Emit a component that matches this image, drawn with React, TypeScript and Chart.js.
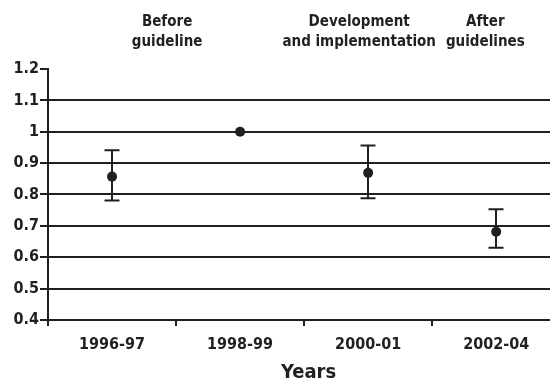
import React, { useEffect, useRef } from "react";
import { Chart, registerables } from "chart.js";

Chart.register(...registerables);

const categories = ["1996-97", "1998-99", "2000-01", "2002-04"];
const estimates = [0.857, 1.0, 0.869, 0.681];
const lowerCI: (number | null)[] = [0.781, null, 0.788, 0.63];
const upperCI: (number | null)[] = [0.941, null, 0.956, 0.753];
const yTickValues = [0.4, 0.5, 0.6, 0.7, 0.8, 0.9, 1.0, 1.1, 1.2];
const periodLabels = [
  ["Before", "guideline"],
  ["Development", "and implementation"],
  ["After", "guidelines"],
];
const xTitle = "Years";

const INK = "#231f20";
const FONT = "'DejaVu Sans Condensed', 'Liberation Sans Narrow', sans-serif";

export default function App() {
  const ref = useRef<HTMLCanvasElement>(null);

  useEffect(() => {
    if (!ref.current) return;

    const errorBars = {
      id: "errorBars",
      beforeDatasetsDraw(chart: any) {
        const { ctx } = chart;
        const xs = chart.scales.x;
        const ys = chart.scales.y;
        ctx.save();
        ctx.strokeStyle = INK;
        ctx.lineWidth = 2;
        categories.forEach((_, i) => {
          const lo = lowerCI[i];
          const hi = upperCI[i];
          if (lo == null || hi == null) return;
          const px = Math.round(xs.getPixelForValue(i));
          const pLo = ys.getPixelForValue(lo);
          const pHi = ys.getPixelForValue(hi);
          ctx.beginPath();
          ctx.moveTo(px, pLo);
          ctx.lineTo(px, pHi);
          ctx.moveTo(px - 7.5, pLo);
          ctx.lineTo(px + 7.5, pLo);
          ctx.moveTo(px - 7.5, pHi);
          ctx.lineTo(px + 7.5, pHi);
          ctx.stroke();
        });
        ctx.restore();
      },
    };

    // horizontal anchors of the period captions, in category units
    const periodAnchors = [0.43, 1.93, 2.915];
    const titleAnchor = 1.535;
    const captions = {
      id: "captions",
      afterDraw(chart: any) {
        const { ctx } = chart;
        const xs = chart.scales.x;
        ctx.save();
        ctx.fillStyle = INK;
        ctx.textAlign = "center";
        ctx.textBaseline = "alphabetic";
        ctx.font = `bold 15px ${FONT}`;
        periodLabels.forEach((lines, i) => {
          const px = xs.getPixelForValue(periodAnchors[i]);
          lines.forEach((t, j) => {
            ctx.fillText(t, px, 26 + j * 20);
          });
        });
        ctx.font = `bold 20px ${FONT}`;
        ctx.fillText(xTitle, xs.getPixelForValue(titleAnchor), 378);
        ctx.restore();
      },
    };

    const chart = new Chart(ref.current, {
      type: "scatter",
      data: {
        datasets: [
          {
            data: estimates.map((v, i) => ({ x: i, y: v })),
            pointRadius: 5,
            pointHoverRadius: 5,
            backgroundColor: INK,
            borderColor: INK,
            borderWidth: 0,
            showLine: false,
          },
        ],
      },
      options: {
        animation: false,
        responsive: false,
        maintainAspectRatio: false,
        events: [],
        layout: { autoPadding: false, padding: { top: 69, right: 0, left: 0, bottom: 0 } },
        plugins: {
          legend: { display: false },
          tooltip: { enabled: false },
        },
        scales: {
          x: {
            type: "linear",
            min: -0.5,
            max: 3.42,
            afterBuildTicks: (scale: any) => {
              scale.ticks = categories.map((_, i) => ({ value: i }));
            },
            afterFit: (scale: any) => {
              scale.height = 66;
              scale.paddingRight = 0;
              scale.paddingLeft = 0;
            },
            ticks: {
              callback: (v: any) => categories[Math.round(Number(v))] ?? "",
              color: INK,
              font: { family: FONT, size: 16, weight: "bold" },
              padding: 9,
              autoSkip: false,
              maxRotation: 0,
            },
            grid: {
              offset: true,
              drawOnChartArea: false,
              color: INK,
              tickColor: INK,
              lineWidth: 2,
              tickLength: 6,
            },
            border: { display: true, color: INK, width: 2 },
          },
          y: {
            min: 0.4,
            max: 1.2,
            afterBuildTicks: (scale: any) => {
              scale.ticks = yTickValues.map((v) => ({ value: v }));
            },
            afterFit: (scale: any) => {
              scale.width = 48;
            },
            ticks: {
              callback: (v: any) => String(Number(Number(v).toFixed(1))),
              color: INK,
              font: { family: FONT, size: 16, weight: "bold" },
              padding: 1,
            },
            grid: {
              color: (c: any) =>
                c.tick && Math.abs(c.tick.value - 1.2) < 1e-6 ? "rgba(0,0,0,0)" : INK,
              tickColor: INK,
              lineWidth: 2,
              tickLength: 8,
            },
            border: { display: true, color: INK, width: 2 },
          },
        },
      },
      plugins: [errorBars, captions],
    } as any);

    return () => chart.destroy();
  }, []);

  return (
    <div style={{ position: "fixed", left: 0, top: 0, width: 550, height: 386, background: "#fff" }}>
      <canvas ref={ref} width={550} height={386} style={{ display: "block" }} />
    </div>
  );
}
